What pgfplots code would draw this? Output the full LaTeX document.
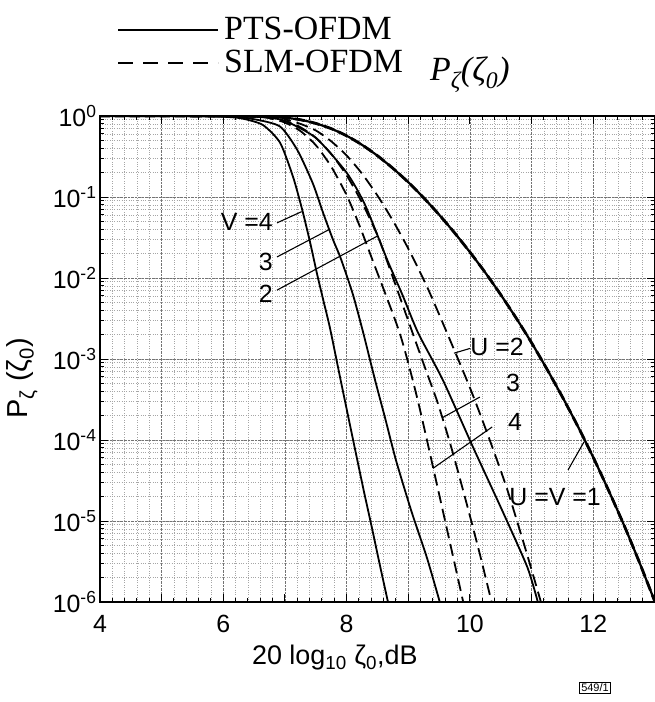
\documentclass[border=0pt]{standalone}
\usepackage{fontspec}
\setmainfont{Liberation Sans}
\newfontfamily\legfont{Liberation Serif}
\usepackage{pgfplots}
\pgfplotsset{compat=1.18}
\begin{document}
\begin{tikzpicture}
\useasboundingbox (-100bp,-100bp) rectangle (555bp,602bp);
\begin{axis}[
  at={(0,0)}, anchor=south west, scale only axis,
  width=555bp, height=486bp,
  xmin=4, xmax=13, ymode=log, ymin=1e-6, ymax=1,
  xtick={4,5,...,13}, xticklabels={4,,6,,8,,10,,12,},
  minor x tick num=4,
  ytick={1e-6,1e-5,1e-4,1e-3,1e-2,1e-1,1},
  yticklabels={10\textsuperscript{-6},10\textsuperscript{-5},10\textsuperscript{-4},10\textsuperscript{-3},10\textsuperscript{-2},10\textsuperscript{-1},10\textsuperscript{0}},
  /pgf/number format/assume math mode=true,
  grid=both,
  major grid style={densely dotted, black!55, line width=0.7bp},
  minor grid style={dotted, black!35, line width=0.6bp},
  tick align=inside, major tick length=8bp, minor tick length=4bp,
  tick style={black, line width=1bp},
  axis line style={line width=1.6bp},
  ticklabel style={font=\fontsize{25}{28}\selectfont},
  xticklabel style={yshift=-10bp},
  xlabel={20 log\textsubscript{10} ζ\textsubscript{0},dB},
  ylabel={P\textsubscript{ζ} (ζ\textsubscript{0})},
  xlabel style={font=\fontsize{27}{30}\selectfont, at={(axis description cs:0.423,-0.115)}, anchor=center},
  ylabel style={font=\fontsize{29}{32}\selectfont, at={(axis description cs:-0.14,0.46)}, anchor=center},
  clip=true,
]
% PTS V=4
\addplot[black, line width=1.8bp, smooth, tension=0.4] coordinates {
(4,1) (5.5,0.9995) (6.0,0.98) (6.3,0.933) (6.64,0.776) (6.92,0.468) (7.13,0.178) (7.28,0.0692) (7.41,0.0269) (7.52,0.0112) (7.62,0.00537) (7.73,0.0024) (7.9,0.00056) (8.05,0.000158) (8.27,0.0000251) (8.4,0.00000891) (8.54,0.00000282) (8.67,0.000001)};
% PTS V=3
\addplot[black, line width=1.8bp, smooth, tension=0.4] coordinates {
(4,1) (6.0,0.99) (6.5,0.912) (6.92,0.741) (7.2,0.380) (7.45,0.148) (7.62,0.0631) (7.78,0.0295) (7.9,0.0178) (8.1,0.00631) (8.27,0.00209) (8.46,0.00055) (8.62,0.000191) (8.8,0.0000562) (9.05,0.0000132) (9.3,0.00000355) (9.51,0.000001)};
% PTS V=2
\addplot[black, line width=1.8bp, smooth, tension=0.4] coordinates {
(4,1) (6.2,0.995) (6.7,0.955) (7.0,0.871) (7.5,0.537) (8.0,0.1995) (8.3,0.0794) (8.66,0.0166) (8.9,0.00631) (9.16,0.00209) (9.56,0.00055) (10.05,0.0000813) (10.54,0.0000126) (10.93,0.00000269) (11.1,0.000001)};
% SLM U=4
\addplot[black, line width=1.8bp, dash pattern=on 12bp off 6bp, smooth, tension=0.4] coordinates {
(4,1) (6.5,0.98) (6.75,0.934) (7.0,0.83) (7.25,0.653) (7.5,0.436) (7.75,0.237) (8.0,0.105) (8.2,0.046) (8.42,0.0166) (8.86,0.00209) (9.15,0.000316) (9.52,0.0000182) (9.89,0.000001)};
% SLM U=3
\addplot[black, line width=1.8bp, dash pattern=on 12bp off 6bp, smooth, tension=0.4] coordinates {
(4,1) (6.5,0.985) (7.0,0.868) (7.25,0.727) (7.5,0.539) (7.75,0.340) (8.0,0.185) (8.25,0.085) (8.5,0.0337) (8.65,0.0166) (9.07,0.00209) (9.3,0.000676) (9.48,0.000282) (9.7,0.0000794) (9.93,0.0000182) (10.15,0.00000417) (10.35,0.000001)};
% SLM U=2
\addplot[black, line width=1.8bp, dash pattern=on 12bp off 6bp, smooth, tension=0.4] coordinates {
(4,1) (6.75,0.99) (7.0,0.91) (7.25,0.80) (7.5,0.663) (7.75,0.487) (8.0,0.325) (8.25,0.194) (8.5,0.104) (8.75,0.051) (9.0,0.023) (9.3,0.0079) (9.6,0.00235) (10.0,0.00044) (10.3,0.00011) (10.6,0.000025) (10.9,0.0000045) (11.15,0.000001)};
% U=V=1 (PTS solid and SLM dashed coincide)
\addplot[black, line width=2.2bp, smooth, tension=0.4] coordinates {
(4,1) (6,0.9995) (6.5,0.995) (6.75,0.983) (7,0.955) (7.25,0.899) (7.5,0.81) (7.75,0.698) (8,0.57) (8.25,0.44) (8.5,0.323) (8.75,0.226) (9,0.152) (9.25,0.0976) (9.5,0.0604) (9.75,0.0361) (10,0.0208) (10.25,0.0116) (10.5,0.0062) (10.75,0.00319) (11,0.00158) (11.25,0.000745) (11.5,0.000338) (11.75,0.000147) (12,0.0000607) (12.25,0.0000236) (12.5,0.0000088) (12.75,0.00000305) (13,0.000001)};
\addplot[black, line width=2.8bp, dash pattern=on 10bp off 5bp, smooth, tension=0.4] coordinates {
(4,1) (6,0.9995) (6.5,0.995) (6.75,0.983) (7,0.955) (7.25,0.899) (7.5,0.81) (7.75,0.698) (8,0.57) (8.25,0.44) (8.5,0.323) (8.75,0.226) (9,0.152) (9.25,0.0976) (9.5,0.0604) (9.75,0.0361) (10,0.0208) (10.25,0.0116) (10.5,0.0062) (10.75,0.00319) (11,0.00158) (11.25,0.000745) (11.5,0.000338) (11.75,0.000147) (12,0.0000607) (12.25,0.0000236) (12.5,0.0000088) (12.75,0.00000305) (13,0.000001)};
% annotations
\draw[line width=1.1bp] (axis cs:6.87,0.0479) -- (axis cs:7.27,0.066);
\draw[line width=1.1bp] (axis cs:6.87,0.0182) -- (axis cs:7.72,0.0398);
\draw[line width=1.1bp] (axis cs:6.87,0.00708) -- (axis cs:8.5,0.033);
\node[anchor=east, font=\fontsize{25}{28}\selectfont, inner sep=1bp] at (axis cs:6.82,0.049) {V =4};
\node[anchor=east, font=\fontsize{25}{28}\selectfont, inner sep=1bp] at (axis cs:6.82,0.0158) {3};
\node[anchor=east, font=\fontsize{25}{28}\selectfont, inner sep=1bp] at (axis cs:6.82,0.0063) {2};
\node[font=\fontsize{25}{28}\selectfont, inner sep=1bp] at (axis cs:10.44,0.00141) {U =2};
\node[font=\fontsize{25}{28}\selectfont, inner sep=1bp] at (axis cs:10.70,0.0005) {3};
\node[font=\fontsize{25}{28}\selectfont, inner sep=1bp] at (axis cs:10.73,0.000166) {4};
\node[font=\fontsize{25}{28}\selectfont, inner sep=1bp] at (axis cs:11.38,0.00002) {U =V =1};
\draw[line width=1.1bp] (axis cs:10.0,0.00135) -- (axis cs:9.74,0.00118);
\draw[line width=1.1bp] (axis cs:10.16,0.000339) -- (axis cs:9.56,0.00019);
\draw[line width=1.1bp] (axis cs:10.36,0.000145) -- (axis cs:9.40,0.0000447);
\draw[line width=1.1bp] (axis cs:11.59,0.0000427) -- (axis cs:11.85,0.000095);
\end{axis}
% legend
\draw[line width=1.5bp] (18bp,572bp) -- (118bp,572bp);
\node[anchor=west, font=\legfont\fontsize{34}{36}\selectfont, inner sep=0pt] at (124bp,574bp) {PTS-OFDM};
\draw[line width=1.5bp, dash pattern=on 15bp off 10bp] (18bp,539bp) -- (118bp,539bp);
\node[anchor=west, font=\legfont\fontsize{34}{36}\selectfont, inner sep=0pt] at (124bp,541bp) {SLM-OFDM};
\node[anchor=west, font=\legfont\itshape\fontsize{34}{36}\selectfont, inner sep=0pt] at (330bp,527bp) {P\textsubscript{ζ}(ζ\textsubscript{0})};
\node[draw, line width=0.8bp, font=\fontsize{11}{12}\selectfont, inner sep=1.5bp] at (495bp,-86bp) {549/1};
\end{tikzpicture}
\end{document}
